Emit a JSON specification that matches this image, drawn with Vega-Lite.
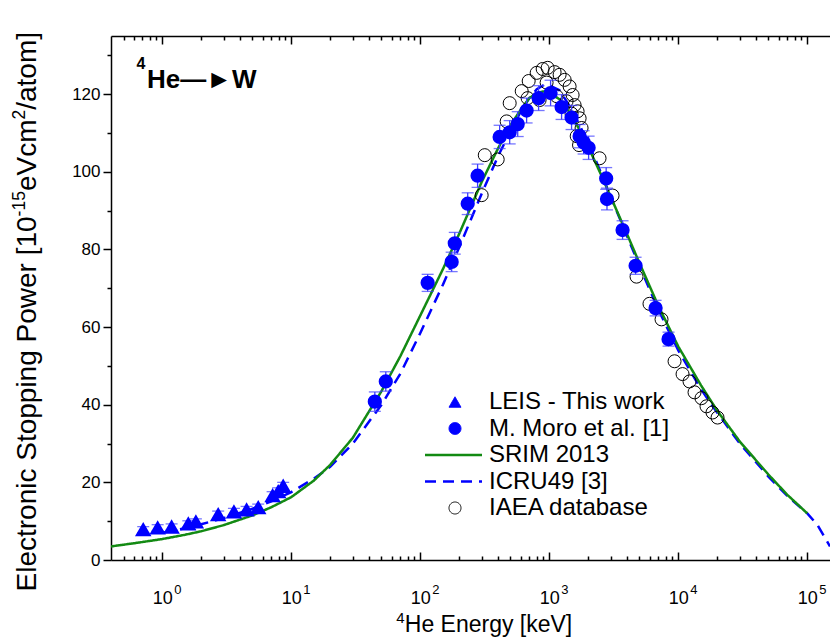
{
  "$schema": "https://vega.github.io/schema/vega-lite/v6.json",
  "width": 719,
  "height": 524,
  "autosize": {"type": "none"},
  "padding": {"left": 111, "top": 36, "right": 0, "bottom": 84},
  "background": "white",
  "config": {
    "view": {"stroke": null},
    "axis": {
      "grid": false,
      "domainColor": "black",
      "domainWidth": 1.5,
      "tickColor": "black",
      "tickWidth": 1.5,
      "labelColor": "black",
      "titleColor": "black",
      "labelFont": "Liberation Sans",
      "titleFont": "Liberation Sans",
      "titleFontWeight": "normal"
    },
    "legend": {
      "orient": "none",
      "legendX": 332,
      "legendY": 354,
      "labelFont": "Liberation Sans",
      "labelFontSize": 24,
      "labelColor": "black",
      "labelLimit": 0,
      "symbolSize": 144,
      "labelOffset": 22,
      "rowPadding": 2.5,
      "padding": 0,
      "title": null
    }
  },
  "datasets": {
    "srim": [
      {"E": 0.4, "S": 3.5, "series": "SRIM 2013"},
      {"E": 0.6, "S": 4.3, "series": "SRIM 2013"},
      {"E": 1, "S": 5.4, "series": "SRIM 2013"},
      {"E": 1.5, "S": 6.5, "series": "SRIM 2013"},
      {"E": 2, "S": 7.4, "series": "SRIM 2013"},
      {"E": 3, "S": 9.0, "series": "SRIM 2013"},
      {"E": 5, "S": 11.5, "series": "SRIM 2013"},
      {"E": 7, "S": 13.6, "series": "SRIM 2013"},
      {"E": 10, "S": 16.2, "series": "SRIM 2013"},
      {"E": 15, "S": 20.5, "series": "SRIM 2013"},
      {"E": 20, "S": 24.5, "series": "SRIM 2013"},
      {"E": 30, "S": 31.5, "series": "SRIM 2013"},
      {"E": 50, "S": 43.5, "series": "SRIM 2013"},
      {"E": 70, "S": 52.5, "series": "SRIM 2013"},
      {"E": 100, "S": 63, "series": "SRIM 2013"},
      {"E": 150, "S": 75, "series": "SRIM 2013"},
      {"E": 200, "S": 84, "series": "SRIM 2013"},
      {"E": 300, "S": 97.5, "series": "SRIM 2013"},
      {"E": 400, "S": 106, "series": "SRIM 2013"},
      {"E": 500, "S": 112, "series": "SRIM 2013"},
      {"E": 600, "S": 116, "series": "SRIM 2013"},
      {"E": 700, "S": 119, "series": "SRIM 2013"},
      {"E": 800, "S": 120.3, "series": "SRIM 2013"},
      {"E": 900, "S": 120.7, "series": "SRIM 2013"},
      {"E": 1000, "S": 120.4, "series": "SRIM 2013"},
      {"E": 1200, "S": 118.7, "series": "SRIM 2013"},
      {"E": 1500, "S": 114.5, "series": "SRIM 2013"},
      {"E": 2000, "S": 106.5, "series": "SRIM 2013"},
      {"E": 2500, "S": 99.5, "series": "SRIM 2013"},
      {"E": 3000, "S": 93.5, "series": "SRIM 2013"},
      {"E": 4000, "S": 84, "series": "SRIM 2013"},
      {"E": 5000, "S": 76.5, "series": "SRIM 2013"},
      {"E": 7000, "S": 65.5, "series": "SRIM 2013"},
      {"E": 10000, "S": 55, "series": "SRIM 2013"},
      {"E": 15000, "S": 45, "series": "SRIM 2013"},
      {"E": 20000, "S": 38.5, "series": "SRIM 2013"},
      {"E": 30000, "S": 30.5, "series": "SRIM 2013"},
      {"E": 50000, "S": 22, "series": "SRIM 2013"},
      {"E": 70000, "S": 16.8, "series": "SRIM 2013"},
      {"E": 100000, "S": 12, "series": "SRIM 2013"}
    ],
    "icru": [
      {"E": 1, "S": 7.0, "series": "ICRU49 [3]"},
      {"E": 1.5, "S": 8.2, "series": "ICRU49 [3]"},
      {"E": 2, "S": 9.2, "series": "ICRU49 [3]"},
      {"E": 3, "S": 10.8, "series": "ICRU49 [3]"},
      {"E": 5, "S": 13.2, "series": "ICRU49 [3]"},
      {"E": 7, "S": 15.1, "series": "ICRU49 [3]"},
      {"E": 10, "S": 17.5, "series": "ICRU49 [3]"},
      {"E": 15, "S": 21, "series": "ICRU49 [3]"},
      {"E": 20, "S": 24, "series": "ICRU49 [3]"},
      {"E": 30, "S": 30, "series": "ICRU49 [3]"},
      {"E": 50, "S": 40, "series": "ICRU49 [3]"},
      {"E": 70, "S": 48, "series": "ICRU49 [3]"},
      {"E": 100, "S": 58.5, "series": "ICRU49 [3]"},
      {"E": 150, "S": 71, "series": "ICRU49 [3]"},
      {"E": 200, "S": 80.5, "series": "ICRU49 [3]"},
      {"E": 300, "S": 94.5, "series": "ICRU49 [3]"},
      {"E": 400, "S": 104, "series": "ICRU49 [3]"},
      {"E": 500, "S": 110.5, "series": "ICRU49 [3]"},
      {"E": 600, "S": 115.5, "series": "ICRU49 [3]"},
      {"E": 700, "S": 119, "series": "ICRU49 [3]"},
      {"E": 800, "S": 121.3, "series": "ICRU49 [3]"},
      {"E": 900, "S": 122.3, "series": "ICRU49 [3]"},
      {"E": 1000, "S": 122.3, "series": "ICRU49 [3]"},
      {"E": 1200, "S": 121, "series": "ICRU49 [3]"},
      {"E": 1500, "S": 116, "series": "ICRU49 [3]"},
      {"E": 2000, "S": 107.5, "series": "ICRU49 [3]"},
      {"E": 2500, "S": 100, "series": "ICRU49 [3]"},
      {"E": 3000, "S": 93.5, "series": "ICRU49 [3]"},
      {"E": 4000, "S": 83.5, "series": "ICRU49 [3]"},
      {"E": 5000, "S": 75.8, "series": "ICRU49 [3]"},
      {"E": 7000, "S": 64.5, "series": "ICRU49 [3]"},
      {"E": 10000, "S": 54, "series": "ICRU49 [3]"},
      {"E": 15000, "S": 44, "series": "ICRU49 [3]"},
      {"E": 20000, "S": 38, "series": "ICRU49 [3]"},
      {"E": 30000, "S": 30, "series": "ICRU49 [3]"},
      {"E": 50000, "S": 21.5, "series": "ICRU49 [3]"},
      {"E": 70000, "S": 16.5, "series": "ICRU49 [3]"},
      {"E": 100000, "S": 12, "series": "ICRU49 [3]"},
      {"E": 120000, "S": 9, "series": "ICRU49 [3]"},
      {"E": 150000, "S": 3.5, "series": "ICRU49 [3]"}
    ],
    "iaea": [
      {"E": 299, "S": 94.0, "series": "IAEA database"},
      {"E": 316, "S": 104.3, "series": "IAEA database"},
      {"E": 398, "S": 103.2, "series": "IAEA database"},
      {"E": 467, "S": 113.0, "series": "IAEA database"},
      {"E": 493, "S": 117.7, "series": "IAEA database"},
      {"E": 611, "S": 120.8, "series": "IAEA database"},
      {"E": 679, "S": 119.0, "series": "IAEA database"},
      {"E": 692, "S": 123.4, "series": "IAEA database"},
      {"E": 798, "S": 125.5, "series": "IAEA database"},
      {"E": 841, "S": 118.5, "series": "IAEA database"},
      {"E": 888, "S": 126.5, "series": "IAEA database"},
      {"E": 953, "S": 123.0, "series": "IAEA database"},
      {"E": 971, "S": 126.8, "series": "IAEA database"},
      {"E": 1099, "S": 125.7, "series": "IAEA database"},
      {"E": 1140, "S": 119.5, "series": "IAEA database"},
      {"E": 1202, "S": 125.0, "series": "IAEA database"},
      {"E": 1361, "S": 118.2, "series": "IAEA database"},
      {"E": 1315, "S": 123.7, "series": "IAEA database"},
      {"E": 1437, "S": 122.0, "series": "IAEA database"},
      {"E": 1488, "S": 115.0, "series": "IAEA database"},
      {"E": 1516, "S": 119.8, "series": "IAEA database"},
      {"E": 1571, "S": 117.2, "series": "IAEA database"},
      {"E": 1630, "S": 109.2, "series": "IAEA database"},
      {"E": 1657, "S": 115.6, "series": "IAEA database"},
      {"E": 1718, "S": 113.8, "series": "IAEA database"},
      {"E": 1779, "S": 111.3, "series": "IAEA database"},
      {"E": 1700, "S": 106.9, "series": "IAEA database"},
      {"E": 2452, "S": 103.5, "series": "IAEA database"},
      {"E": 3093, "S": 93.9, "series": "IAEA database"},
      {"E": 4745, "S": 73.0, "series": "IAEA database"},
      {"E": 5980, "S": 66.0, "series": "IAEA database"},
      {"E": 7413, "S": 62.0, "series": "IAEA database"},
      {"E": 9354, "S": 51.2, "series": "IAEA database"},
      {"E": 10790, "S": 47.9, "series": "IAEA database"},
      {"E": 12220, "S": 46.0, "series": "IAEA database"},
      {"E": 13360, "S": 43.2, "series": "IAEA database"},
      {"E": 15130, "S": 41.7, "series": "IAEA database"},
      {"E": 16550, "S": 39.6, "series": "IAEA database"},
      {"E": 18410, "S": 38.0, "series": "IAEA database"},
      {"E": 20150, "S": 36.7, "series": "IAEA database"}
    ],
    "moro": [
      {"E": 44.4, "S": 40.8, "lo": 38.3, "hi": 43.3, "series": "M. Moro et al. [1]"},
      {"E": 54, "S": 46.0, "lo": 43.5, "hi": 48.5, "series": "M. Moro et al. [1]"},
      {"E": 114, "S": 71.4, "lo": 69.2, "hi": 73.6, "series": "M. Moro et al. [1]"},
      {"E": 175, "S": 76.8, "lo": 74.3, "hi": 79.3, "series": "M. Moro et al. [1]"},
      {"E": 185, "S": 81.6, "lo": 78.8, "hi": 84.4, "series": "M. Moro et al. [1]"},
      {"E": 233, "S": 91.8, "lo": 89.0, "hi": 94.6, "series": "M. Moro et al. [1]"},
      {"E": 278, "S": 99.0, "lo": 96.0, "hi": 102.0, "series": "M. Moro et al. [1]"},
      {"E": 412, "S": 109.0, "lo": 106.0, "hi": 112.0, "series": "M. Moro et al. [1]"},
      {"E": 493, "S": 110.2, "lo": 107.2, "hi": 113.2, "series": "M. Moro et al. [1]"},
      {"E": 569, "S": 112.3, "lo": 109.1, "hi": 115.5, "series": "M. Moro et al. [1]"},
      {"E": 667, "S": 115.8, "lo": 112.6, "hi": 119.0, "series": "M. Moro et al. [1]"},
      {"E": 826, "S": 119.0, "lo": 115.8, "hi": 122.2, "series": "M. Moro et al. [1]"},
      {"E": 1023, "S": 120.3, "lo": 117.0, "hi": 123.6, "series": "M. Moro et al. [1]"},
      {"E": 1245, "S": 116.7, "lo": 113.5, "hi": 119.9, "series": "M. Moro et al. [1]"},
      {"E": 1488, "S": 114.0, "lo": 110.9, "hi": 117.1, "series": "M. Moro et al. [1]"},
      {"E": 1718, "S": 109.2, "lo": 106.2, "hi": 112.2, "series": "M. Moro et al. [1]"},
      {"E": 1845, "S": 107.6, "lo": 104.6, "hi": 110.6, "series": "M. Moro et al. [1]"},
      {"E": 2017, "S": 106.2, "lo": 103.2, "hi": 109.2, "series": "M. Moro et al. [1]"},
      {"E": 2760, "S": 98.3, "lo": 95.5, "hi": 101.1, "series": "M. Moro et al. [1]"},
      {"E": 2800, "S": 93.0, "lo": 90.2, "hi": 95.8, "series": "M. Moro et al. [1]"},
      {"E": 3698, "S": 85.0, "lo": 82.6, "hi": 87.4, "series": "M. Moro et al. [1]"},
      {"E": 4666, "S": 75.8, "lo": 73.6, "hi": 78.0, "series": "M. Moro et al. [1]"},
      {"E": 6668, "S": 64.9, "lo": 62.9, "hi": 66.9, "series": "M. Moro et al. [1]"},
      {"E": 8402, "S": 56.9, "lo": 55.1, "hi": 58.7, "series": "M. Moro et al. [1]"}
    ],
    "leis": [
      {"E": 0.711, "S": 7.8, "lo": 7.0, "hi": 8.6, "series": "LEIS - This work"},
      {"E": 0.92, "S": 8.3, "lo": 7.5, "hi": 9.1, "series": "LEIS - This work"},
      {"E": 1.18, "S": 8.5, "lo": 7.7, "hi": 9.3, "series": "LEIS - This work"},
      {"E": 1.59, "S": 9.3, "lo": 8.5, "hi": 10.1, "series": "LEIS - This work"},
      {"E": 1.82, "S": 9.8, "lo": 9.0, "hi": 10.6, "series": "LEIS - This work"},
      {"E": 2.71, "S": 11.7, "lo": 10.8, "hi": 12.6, "series": "LEIS - This work"},
      {"E": 3.59, "S": 12.4, "lo": 11.5, "hi": 13.3, "series": "LEIS - This work"},
      {"E": 4.50, "S": 12.9, "lo": 12.0, "hi": 13.8, "series": "LEIS - This work"},
      {"E": 5.54, "S": 13.5, "lo": 12.6, "hi": 14.4, "series": "LEIS - This work"},
      {"E": 7.16, "S": 16.6, "lo": 15.6, "hi": 17.6, "series": "LEIS - This work"},
      {"E": 7.91, "S": 17.6, "lo": 16.6, "hi": 18.6, "series": "LEIS - This work"},
      {"E": 8.65, "S": 19.0, "lo": 18.0, "hi": 20.0, "series": "LEIS - This work"}
    ],
    "label_main": [
      {"E": 0.76, "S": 121.6, "text": "He—►W"}
    ],
    "label_sup": [
      {"E": 0.63, "S": 126.5, "text": "4"}
    ]
  },
  "layer": [
    {
      "data": {"name": "icru"},
      "mark": {"type": "line", "clip": true},
      "encoding": {
        "x": {"field": "E", "type": "quantitative",
          "scale": {"type": "log", "domain": [0.4, 150000]},
          "axis": {"orient": "bottom", "values": [1, 10, 100, 1000, 10000, 100000],
            "labelExpr": "'10'",
            "tickSize": -8, "labelFontSize": 18, "labelPadding": 37, "labelFlush": false,
            "title": "He Energy [keV]", "titleFontSize": 23, "titleX": 377, "titleY": 71,
            "titleAlign": "center", "titleBaseline": "alphabetic"}},
        "y": {"field": "S", "type": "quantitative",
          "scale": {"domain": [0, 135]},
          "axis": {"orient": "left", "values": [0, 20, 40, 60, 80, 100, 120],
            "tickSize": 8, "labelFontSize": 17, "labelPadding": 3, "labelFlush": false,
            "title": "Electronic Stopping Power [10", "titleFontSize": 28, "titleAngle": -90,
            "titleAlign": "left", "titleBaseline": "alphabetic", "titleX": -76, "titleY": 555}},
        "stroke": {"field": "series", "type": "nominal",
          "scale": {"domain": ["LEIS - This work", "M. Moro et al. [1]", "SRIM 2013", "ICRU49 [3]", "IAEA database"],
            "range": ["#0000ff", "#0000ff", "#138a13", "#0000ff", "#000000"]},
          "legend": {"orient": "none", "legendX": 332, "legendY": 354, "title": null}},
        "strokeDash": {"field": "series", "type": "nominal",
          "scale": {"domain": ["LEIS - This work", "M. Moro et al. [1]", "SRIM 2013", "ICRU49 [3]", "IAEA database"],
            "range": [[1, 0], [1, 0], [1, 0], [11, 7], [1, 0]]},
          "legend": {"orient": "none", "legendX": 332, "legendY": 354, "title": null}},
        "strokeWidth": {"field": "series", "type": "nominal",
          "scale": {"type": "ordinal", "domain": ["LEIS - This work", "M. Moro et al. [1]", "SRIM 2013", "ICRU49 [3]", "IAEA database"],
            "range": [1, 1, 2.5, 2.5, 1]},
          "legend": {"orient": "none", "legendX": 332, "legendY": 354, "title": null}}
      }
    },
    {
      "data": {"name": "srim"},
      "mark": {"type": "line", "clip": true},
      "encoding": {
        "x": {"field": "E", "type": "quantitative",
          "scale": {"type": "log", "domain": [0.4, 150000]},
          "axis": {"orient": "bottom", "values": [0.5, 0.6, 0.7, 0.8, 0.9, 2, 3, 4, 5, 6, 7, 8, 9, 20, 30, 40, 50, 60, 70, 80, 90, 200, 300, 400, 500, 600, 700, 800, 900, 2000, 3000, 4000, 5000, 6000, 7000, 8000, 9000, 20000, 30000, 40000, 50000, 60000, 70000, 80000, 90000],
            "tickSize": -4, "labels": false, "domain": false,
            "title": "4", "titleFontSize": 15, "titleX": 289, "titleY": 62,
            "titleAlign": "center", "titleBaseline": "alphabetic"}},
        "y": {"field": "S", "type": "quantitative",
          "scale": {"domain": [0, 135]},
          "axis": {"orient": "left", "values": [10, 30, 50, 70, 90, 110, 130],
            "tickSize": 4, "labels": false, "domain": false,
            "title": "-15", "titleFontSize": 17.5, "titleAngle": -90,
            "titleAlign": "left", "titleBaseline": "alphabetic", "titleX": -87, "titleY": 179.9}},
        "stroke": {"field": "series", "type": "nominal",
          "scale": {"domain": ["LEIS - This work", "M. Moro et al. [1]", "SRIM 2013", "ICRU49 [3]", "IAEA database"],
            "range": ["#0000ff", "#0000ff", "#138a13", "#0000ff", "#000000"]},
          "legend": {"orient": "none", "legendX": 332, "legendY": 354, "title": null}},
        "strokeDash": {"field": "series", "type": "nominal",
          "scale": {"domain": ["LEIS - This work", "M. Moro et al. [1]", "SRIM 2013", "ICRU49 [3]", "IAEA database"],
            "range": [[1, 0], [1, 0], [1, 0], [11, 7], [1, 0]]},
          "legend": {"orient": "none", "legendX": 332, "legendY": 354, "title": null}},
        "strokeWidth": {"field": "series", "type": "nominal",
          "scale": {"type": "ordinal", "domain": ["LEIS - This work", "M. Moro et al. [1]", "SRIM 2013", "ICRU49 [3]", "IAEA database"],
            "range": [1, 1, 2.5, 2.5, 1]},
          "legend": {"orient": "none", "legendX": 332, "legendY": 354, "title": null}}
      }
    },
    {
      "data": {"name": "iaea"},
      "mark": {"type": "point", "clip": true, "opacity": 1, "size": 169},
      "encoding": {
        "x": {"field": "E", "type": "quantitative",
          "scale": {"type": "log", "domain": [0.4, 150000]},
          "axis": {"orient": "top", "values": [1, 10, 100, 1000, 10000, 100000],
            "tickSize": -8, "labels": false, "title": null}},
        "y": {"field": "S", "type": "quantitative",
          "scale": {"domain": [0, 135]},
          "axis": {"orient": "left", "ticks": false, "labels": false, "domain": false,
            "title": "eVcm", "titleFontSize": 28, "titleAngle": -90,
            "titleAlign": "left", "titleBaseline": "alphabetic", "titleX": -76, "titleY": 154.6}},
        "stroke": {"field": "series", "type": "nominal",
          "scale": {"domain": ["LEIS - This work", "M. Moro et al. [1]", "SRIM 2013", "ICRU49 [3]", "IAEA database"],
            "range": ["#0000ff", "#0000ff", "#138a13", "#0000ff", "#000000"]},
          "legend": {"orient": "none", "legendX": 332, "legendY": 354, "title": null}},
        "fill": {"field": "series", "type": "nominal",
          "scale": {"domain": ["LEIS - This work", "M. Moro et al. [1]", "SRIM 2013", "ICRU49 [3]", "IAEA database"],
            "range": ["#0000ff", "#0000ff", "transparent", "transparent", "transparent"]},
          "legend": {"orient": "none", "legendX": 332, "legendY": 354, "title": null}},
        "shape": {"field": "series", "type": "nominal",
          "scale": {"domain": ["LEIS - This work", "M. Moro et al. [1]", "SRIM 2013", "ICRU49 [3]", "IAEA database"],
            "range": ["triangle-up", "circle", "M-5,0H4.5", "M-5,0H4.5", "circle"]},
          "legend": {"orient": "none", "legendX": 332, "legendY": 354, "title": null}},
        "strokeWidth": {"field": "series", "type": "nominal",
          "scale": {"type": "ordinal", "domain": ["LEIS - This work", "M. Moro et al. [1]", "SRIM 2013", "ICRU49 [3]", "IAEA database"],
            "range": [1, 1, 2.5, 2.5, 1]},
          "legend": {"orient": "none", "legendX": 332, "legendY": 354, "title": null}}
      }
    },
    {
      "data": {"name": "moro"},
      "mark": {"type": "errorbar", "ticks": {"size": 12}, "thickness": 1.3, "color": "#3c3cff", "clip": true},
      "encoding": {
        "x": {"field": "E", "type": "quantitative",
          "scale": {"type": "log", "domain": [0.4, 150000]},
          "axis": {"orient": "top", "values": [0.5, 0.6, 0.7, 0.8, 0.9, 2, 3, 4, 5, 6, 7, 8, 9, 20, 30, 40, 50, 60, 70, 80, 90, 200, 300, 400, 500, 600, 700, 800, 900, 2000, 3000, 4000, 5000, 6000, 7000, 8000, 9000, 20000, 30000, 40000, 50000, 60000, 70000, 80000, 90000],
            "tickSize": -4, "labels": false, "domain": false, "title": null}},
        "y": {"field": "lo", "type": "quantitative", "scale": {"domain": [0, 135]},
          "axis": {"orient": "left", "ticks": false, "labels": false, "domain": false,
            "title": "2", "titleFontSize": 17.5, "titleAngle": -90,
            "titleAlign": "left", "titleBaseline": "alphabetic", "titleX": -87, "titleY": 83.0}},
        "y2": {"field": "hi"}
      }
    },
    {
      "data": {"name": "moro"},
      "mark": {"type": "point", "clip": true, "opacity": 1, "size": 150},
      "encoding": {
        "x": {"field": "E", "type": "quantitative", "scale": {"type": "log", "domain": [0.4, 150000]},
          "axis": {"orient": "bottom", "values": [1, 10, 100, 1000, 10000, 100000],
            "labelExpr": "round(log(datum.value)/LN10)",
            "ticks": false, "tickSize": 0, "domain": false, "labelFontSize": 13, "labelPadding": 23,
            "labelOffset": 15, "labelFlush": false, "title": null}},
        "y": {"field": "S", "type": "quantitative", "scale": {"domain": [0, 135]},
          "axis": {"orient": "left", "ticks": false, "labels": false, "domain": false,
            "title": "/atom]", "titleFontSize": 28, "titleAngle": -90,
            "titleAlign": "left", "titleBaseline": "alphabetic", "titleX": -76, "titleY": 73.3}},
        "stroke": {"field": "series", "type": "nominal",
          "scale": {"domain": ["LEIS - This work", "M. Moro et al. [1]", "SRIM 2013", "ICRU49 [3]", "IAEA database"],
            "range": ["#0000ff", "#0000ff", "#138a13", "#0000ff", "#000000"]},
          "legend": {"orient": "none", "legendX": 332, "legendY": 354, "title": null}},
        "fill": {"field": "series", "type": "nominal",
          "scale": {"domain": ["LEIS - This work", "M. Moro et al. [1]", "SRIM 2013", "ICRU49 [3]", "IAEA database"],
            "range": ["#0000ff", "#0000ff", "transparent", "transparent", "transparent"]},
          "legend": {"orient": "none", "legendX": 332, "legendY": 354, "title": null}},
        "shape": {"field": "series", "type": "nominal",
          "scale": {"domain": ["LEIS - This work", "M. Moro et al. [1]", "SRIM 2013", "ICRU49 [3]", "IAEA database"],
            "range": ["triangle-up", "circle", "M-5,0H4.5", "M-5,0H4.5", "circle"]},
          "legend": {"orient": "none", "legendX": 332, "legendY": 354, "title": null}}
      }
    },
    {
      "data": {"name": "leis"},
      "mark": {"type": "errorbar", "ticks": {"size": 12}, "thickness": 1.3, "color": "#3c3cff", "clip": true},
      "encoding": {
        "x": {"field": "E", "type": "quantitative", "scale": {"type": "log", "domain": [0.4, 150000]}, "axis": null},
        "y": {"field": "lo", "type": "quantitative", "scale": {"domain": [0, 135]}, "axis": null},
        "y2": {"field": "hi"}
      }
    },
    {
      "data": {"name": "leis"},
      "mark": {"type": "point", "clip": true, "opacity": 1, "size": 170},
      "encoding": {
        "x": {"field": "E", "type": "quantitative", "scale": {"type": "log", "domain": [0.4, 150000]}, "axis": null},
        "y": {"field": "S", "type": "quantitative", "scale": {"domain": [0, 135]}, "axis": null},
        "stroke": {"field": "series", "type": "nominal",
          "scale": {"domain": ["LEIS - This work", "M. Moro et al. [1]", "SRIM 2013", "ICRU49 [3]", "IAEA database"],
            "range": ["#0000ff", "#0000ff", "#138a13", "#0000ff", "#000000"]},
          "legend": {"orient": "none", "legendX": 332, "legendY": 354, "title": null}},
        "fill": {"field": "series", "type": "nominal",
          "scale": {"domain": ["LEIS - This work", "M. Moro et al. [1]", "SRIM 2013", "ICRU49 [3]", "IAEA database"],
            "range": ["#0000ff", "#0000ff", "transparent", "transparent", "transparent"]},
          "legend": {"orient": "none", "legendX": 332, "legendY": 354, "title": null}},
        "shape": {"field": "series", "type": "nominal",
          "scale": {"domain": ["LEIS - This work", "M. Moro et al. [1]", "SRIM 2013", "ICRU49 [3]", "IAEA database"],
            "range": ["triangle-up", "circle", "M-5,0H4.5", "M-5,0H4.5", "circle"]},
          "legend": {"orient": "none", "legendX": 332, "legendY": 354, "title": null}}
      }
    },
    {
      "data": {"name": "label_main"},
      "mark": {"type": "text", "align": "left", "baseline": "alphabetic", "font": "Liberation Sans", "fontSize": 26, "fontWeight": "bold", "color": "black"},
      "encoding": {
        "x": {"field": "E", "type": "quantitative", "scale": {"type": "log", "domain": [0.4, 150000]}, "axis": null},
        "y": {"field": "S", "type": "quantitative", "scale": {"domain": [0, 135]}, "axis": null},
        "text": {"field": "text"}
      }
    },
    {
      "data": {"name": "label_sup"},
      "mark": {"type": "text", "align": "left", "baseline": "alphabetic", "font": "Liberation Sans", "fontSize": 16, "fontWeight": "bold", "color": "black"},
      "encoding": {
        "x": {"field": "E", "type": "quantitative", "scale": {"type": "log", "domain": [0.4, 150000]}, "axis": null},
        "y": {"field": "S", "type": "quantitative", "scale": {"domain": [0, 135]}, "axis": null},
        "text": {"field": "text"}
      }
    }
  ],
  "resolve": {"axis": {"x": "independent", "y": "independent"}}
}
